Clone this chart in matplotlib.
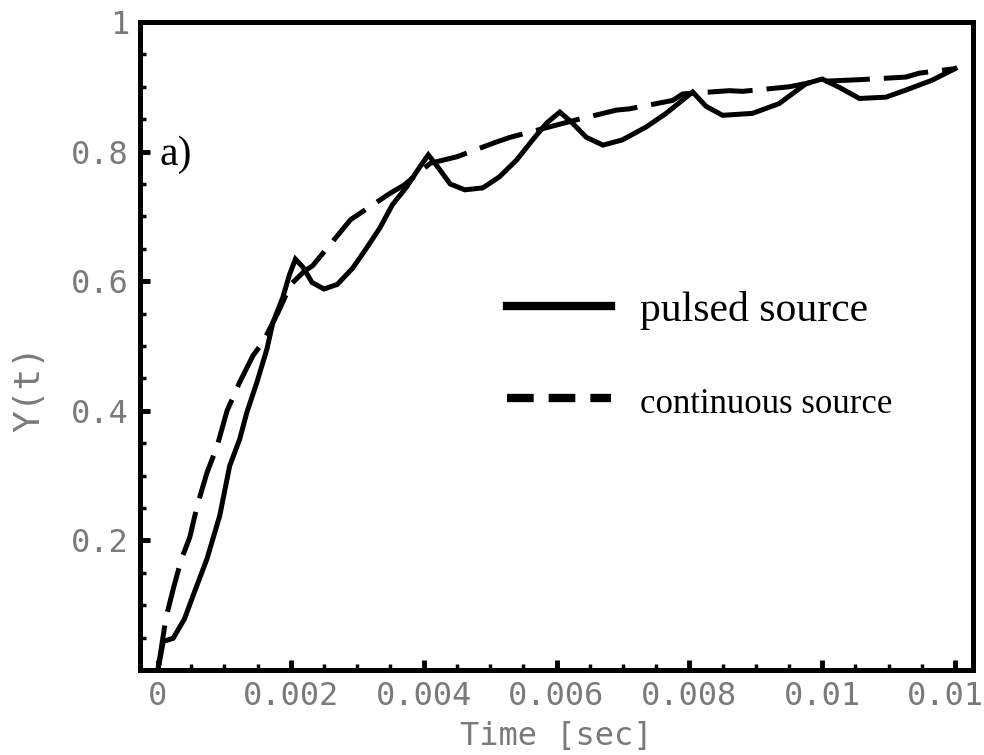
import numpy as np
import matplotlib
matplotlib.use("Agg")
import matplotlib.pyplot as plt
from matplotlib.lines import Line2D
from matplotlib.ticker import MultipleLocator

# pulsed source response
pulsed_t = [0.0, 0.00008, 0.00023, 0.00040, 0.00053, 0.00074, 0.00093, 0.00108,
            0.00123, 0.00134, 0.00149, 0.00164, 0.00173, 0.00188, 0.00198, 0.00207,
            0.00218, 0.00232, 0.00250, 0.00270, 0.00293, 0.00314, 0.00334, 0.00353,
            0.00374, 0.00394, 0.00407, 0.00420, 0.00440, 0.00462, 0.00489, 0.00514,
            0.00540, 0.00564, 0.00585, 0.00605, 0.00622, 0.00645, 0.00670, 0.00699,
            0.00735, 0.00765, 0.00805, 0.00825, 0.00850, 0.00895, 0.00935, 0.00976,
            0.01000, 0.01026, 0.01056, 0.01096, 0.01126, 0.01165, 0.01200]
pulsed_y = [0.0, 0.044, 0.049, 0.079, 0.115, 0.172, 0.238, 0.315,
            0.356, 0.398, 0.444, 0.495, 0.536, 0.575, 0.610, 0.634,
            0.622, 0.598, 0.588, 0.595, 0.620, 0.651, 0.682, 0.718,
            0.745, 0.776, 0.795, 0.778, 0.750, 0.741, 0.744, 0.761,
            0.787, 0.818, 0.844, 0.861, 0.846, 0.822, 0.810, 0.818,
            0.838, 0.859, 0.892, 0.870, 0.856, 0.859, 0.874, 0.905,
            0.912, 0.899, 0.882, 0.884, 0.895, 0.910, 0.928]

# continuous source response
cont_t = [0.0, 0.00012, 0.00023, 0.00035, 0.00048, 0.00059, 0.00074, 0.00089,
          0.00104, 0.00123, 0.00143, 0.00158, 0.00180, 0.00200, 0.00220, 0.00233,
          0.00274, 0.00290, 0.00350, 0.00370, 0.00410, 0.00450, 0.00510, 0.00530,
          0.00600, 0.00630, 0.00690, 0.00710, 0.00775, 0.00790, 0.00860, 0.00880,
          0.00950, 0.00990, 0.01056, 0.01126, 0.01146, 0.01200]
cont_y = [0.0, 0.080, 0.125, 0.170, 0.205, 0.253, 0.305, 0.345,
          0.400, 0.444, 0.485, 0.506, 0.550, 0.595, 0.615, 0.624,
          0.675, 0.695, 0.736, 0.748, 0.782, 0.792, 0.815, 0.822,
          0.841, 0.849, 0.864, 0.866, 0.879, 0.889, 0.894, 0.893,
          0.900, 0.908, 0.911, 0.915, 0.921, 0.928]

xticks = [0, 0.002, 0.004, 0.006, 0.008, 0.01, 0.012]
xtick_labels = ["0", "0.002", "0.004", "0.006", "0.008", "0.01", "0.012"]
yticks = [0.2, 0.4, 0.6, 0.8, 1.0]
ytick_labels = ["0.2", "0.4", "0.6", "0.8", "1"]

mono = "DejaVu Sans Mono"
serif = "Liberation Serif"
grey = "#7a7a7a"

fig = plt.figure(figsize=(9.84, 7.55), dpi=100)
ax = fig.add_axes([140 / 984, 85 / 755, 833 / 984, 648 / 755])

ax.plot(pulsed_t, pulsed_y, color="black", lw=3.6, solid_joinstyle="miter")
ax.plot(cont_t, cont_y, color="black", lw=3.6, dashes=(9, 2.8))

ax.set_xlim(-0.00027, 0.01227)
ax.set_ylim(0, 1)

ax.set_xticks(xticks, labels=xtick_labels)
ax.set_yticks(yticks, labels=ytick_labels)
ax.xaxis.set_minor_locator(MultipleLocator(0.0005))
ax.yaxis.set_minor_locator(MultipleLocator(0.05))
ax.tick_params(which="both", direction="in", top=False, right=False, color="black")
ax.tick_params(which="major", length=7, width=3.5, pad=8, labelsize=23,
               labelcolor=grey)
ax.tick_params(which="minor", length=4, width=2.5)
for lab in ax.get_xticklabels() + ax.get_yticklabels():
    lab.set_family(mono)

for sp in ax.spines.values():
    sp.set_linewidth(3.6)

ax.set_xlabel("Time [sec]", family=mono, fontsize=23, color=grey, va="center")
ax.xaxis.set_label_coords(0.5, -0.103)
ax.set_ylabel("Y(t)", family=mono, fontsize=26, color=grey)
ax.yaxis.set_label_coords(-0.112, 0.435)

ax.text(0.00003, 0.779, "a)", family=serif, fontsize=30, va="baseline")

handles = [Line2D([], [], color="black", lw=6),
           Line2D([], [], color="black", lw=6, dashes=(3.2, 1.8))]
leg = ax.legend(handles, ["pulsed source", "continuous source"],
                loc="center left", bbox_to_anchor=(0.44, 0.485), frameon=False,
                prop={"family": serif, "size": 30}, handlelength=2.5,
                handletextpad=0.7, labelspacing=1.3, borderpad=0, borderaxespad=0)
leg.get_texts()[1].set_fontsize(25)

fig.savefig("out.png", dpi=100)
